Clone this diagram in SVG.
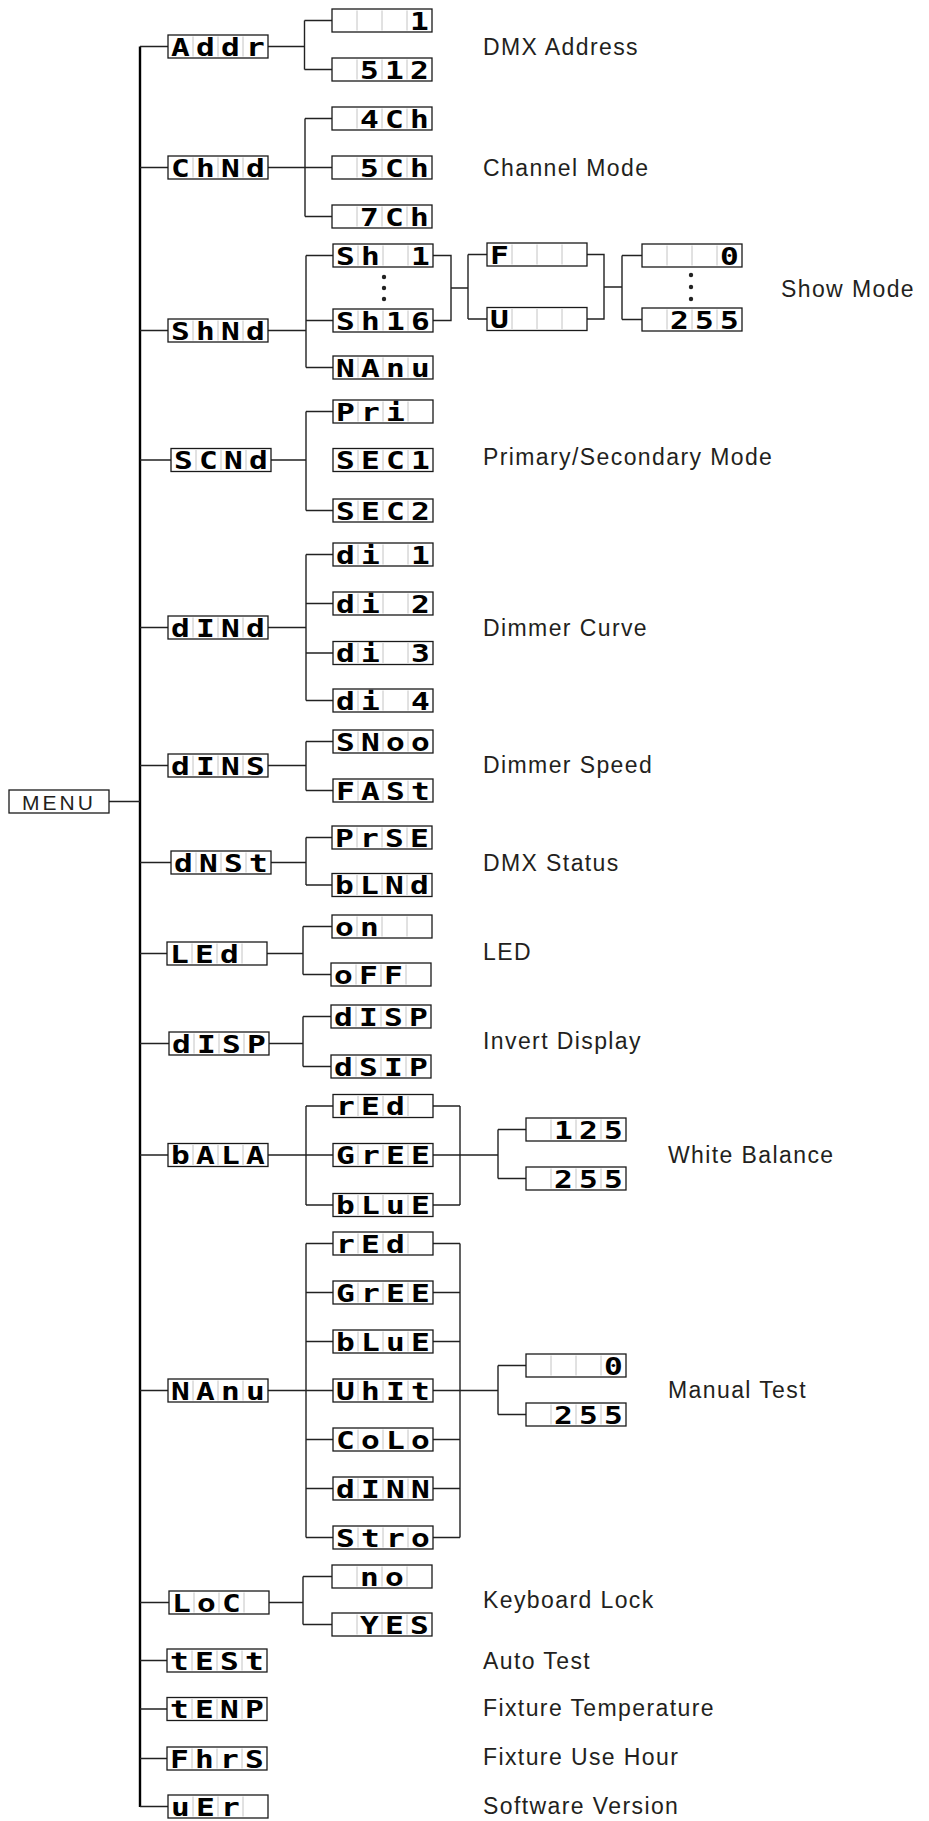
<svg xmlns="http://www.w3.org/2000/svg" xmlns:xlink="http://www.w3.org/1999/xlink" width="929" height="1821" viewBox="0 0 929 1821">
<style>
.box{fill:#fff;stroke:#1a1a1a;stroke-width:1.3}
.dv{stroke:#c4c4c4;stroke-width:1;fill:none}
.lcd{font-family:"DejaVu Sans Mono","Liberation Mono",monospace;font-weight:bold;font-size:24px;fill:#000;text-anchor:middle;transform:scale(1.3,1);transform-origin:0 0}
.lbl{font-family:"Liberation Sans",Arial,sans-serif;font-size:23px;fill:#231f20;letter-spacing:1.4px}
.menu{font-family:"Liberation Sans",Arial,sans-serif;font-size:21px;fill:#231f20;letter-spacing:3px}
.ln{stroke:#222;stroke-width:1.4;fill:none}
.main{stroke:#000;stroke-width:2.4;fill:none}
.dot{fill:#222}
</style>
<defs>
<g id="cells"><rect class="box" x="0" y="0" width="100" height="23"/><path class="dv" d="M25 1.5v20M50 1.5v20M75 1.5v20"/></g>
</defs>
<rect width="929" height="1821" fill="#fff"/>
<g id="connectors">
<path class="main" d="M140 46.5V1807"/>
<path class="ln" d="M109 801.5H140
M140 46.5H168M268 46.5H304.5M304.5 20.5V69.5M304.5 20.5H332M304.5 69.5H332
M140 167.5H168M268 167.5H305M305 118.5V216.5M305 118.5H332M305 167.5H332M305 216.5H332
M140 330.5H168M268 330.5H306M306 255.5V367.5M306 255.5H333M306 320.5H333M306 367.5H333
M433 255.5H451V320.5H433M451 288H468M468 254.5V319M468 254.5H487M468 319H487
M587 254.5H604V319H587M604 287H622M622 255.5V319.5M622 255.5H642M622 319.5H642
M140 460H171M271 460H306M306 411.5V510.5M306 411.5H333M306 510.5H333
M140 627.5H168M268 627.5H306M306 554.5V700.5M306 554.5H333M306 603.5H333M306 653H333M306 700.5H333
M140 765.5H168M268 765.5H306M306 741.5V790.5M306 741.5H333M306 790.5H333
M140 862.5H171M271 862.5H306M306 837.5V885M306 837.5H332M306 885H332
M140 953.5H167M267 953.5H303M303 926.5V974.5M303 926.5H332M303 974.5H331
M140 1043.5H169M269 1043.5H303M303 1016.5V1066.5M303 1016.5H331M303 1066.5H331
M140 1155H168M268 1155H333M306 1106V1205M306 1106H333M306 1205H333
M433 1106H460M433 1155H460M433 1205H460M460 1106V1205M460 1155H498M498 1129.5V1178.5M498 1129.5H526M498 1178.5H526
M140 1390.5H168M268 1390.5H306M306 1243.5V1537.5
M306 1243.5H333M306 1292.5H333M306 1341.5H333M306 1390.5H333M306 1439.5H333M306 1488.5H333M306 1537.5H333
M433 1243.5H460M433 1292.5H460M433 1341.5H460M433 1390.5H460M433 1439.5H460M433 1488.5H460M433 1537.5H460
M460 1243.5V1537.5M460 1390.5H498M498 1365.5V1414.5M498 1365.5H526M498 1414.5H526
M140 1602.5H169M269 1602.5H303M303 1576.5V1624.5M303 1576.5H332M303 1624.5H332
M140 1660.5H167M140 1709H167M140 1758.5H167M140 1806.5H168"/>
<circle class="dot" cx="384" cy="277" r="2.2"/><circle class="dot" cx="384" cy="288" r="2.2"/><circle class="dot" cx="384" cy="299" r="2.2"/>
<circle class="dot" cx="691" cy="275" r="2.2"/><circle class="dot" cx="691" cy="287" r="2.2"/><circle class="dot" cx="691" cy="299" r="2.2"/>
</g>
<g id="menu"><rect class="box" x="9" y="790" width="100" height="23"/><text class="menu" x="22" y="809.5">MENU</text></g>
<g id="addr" transform="translate(168,35)"><use xlink:href="#cells"/><text class="lcd" x="9.6 28.8 48.1 67.3" y="20.5">Addr</text></g>
<g id="addr-1" transform="translate(332,9)"><use xlink:href="#cells"/><text class="lcd" x="67.3" y="20.5">1</text></g>
<g id="addr-512" transform="translate(332,58)"><use xlink:href="#cells"/><text class="lcd" x="28.8 48.1 67.3" y="20.5">512</text></g>
<g id="chnd" transform="translate(168,156)"><use xlink:href="#cells"/><text class="lcd" x="9.6 28.8 48.1 67.3" y="20.5">ChNd</text></g>
<g id="ch4" transform="translate(332,107)"><use xlink:href="#cells"/><text class="lcd" x="28.8 48.1 67.3" y="20.5">4Ch</text></g>
<g id="ch5" transform="translate(332,156)"><use xlink:href="#cells"/><text class="lcd" x="28.8 48.1 67.3" y="20.5">5Ch</text></g>
<g id="ch7" transform="translate(332,205)"><use xlink:href="#cells"/><text class="lcd" x="28.8 48.1 67.3" y="20.5">7Ch</text></g>
<g id="shnd" transform="translate(168,319)"><use xlink:href="#cells"/><text class="lcd" x="9.6 28.8 48.1 67.3" y="20.5">ShNd</text></g>
<g id="sh1" transform="translate(333,244)"><use xlink:href="#cells"/><text class="lcd" x="9.6 28.8 67.3" y="20.5">Sh1</text></g>
<g id="sh16" transform="translate(333,309)"><use xlink:href="#cells"/><text class="lcd" x="9.6 28.8 48.1 67.3" y="20.5">Sh16</text></g>
<g id="sh-nanu" transform="translate(333,356)"><use xlink:href="#cells"/><text class="lcd" x="9.6 28.8 48.1 67.3" y="20.5">NAnu</text></g>
<g id="show-f" transform="translate(487,243)"><use xlink:href="#cells"/><text class="lcd" x="9.6" y="20.5">F</text></g>
<g id="show-u" transform="translate(487,307.5)"><use xlink:href="#cells"/><text class="lcd" x="9.6" y="20.5">U</text></g>
<g id="show-0" transform="translate(642,244)"><use xlink:href="#cells"/><text class="lcd" x="67.3" y="20.5">0</text></g>
<g id="show-255" transform="translate(642,308)"><use xlink:href="#cells"/><text class="lcd" x="28.8 48.1 67.3" y="20.5">255</text></g>
<g id="scnd" transform="translate(171,448.5)"><use xlink:href="#cells"/><text class="lcd" x="9.6 28.8 48.1 67.3" y="20.5">SCNd</text></g>
<g id="pri" transform="translate(333,400)"><use xlink:href="#cells"/><text class="lcd" x="9.6 28.8 48.1" y="20.5">Pri</text></g>
<g id="sec1" transform="translate(333,448.5)"><use xlink:href="#cells"/><text class="lcd" x="9.6 28.8 48.1 67.3" y="20.5">SEC1</text></g>
<g id="sec2" transform="translate(333,499)"><use xlink:href="#cells"/><text class="lcd" x="9.6 28.8 48.1 67.3" y="20.5">SEC2</text></g>
<g id="dind" transform="translate(168,616)"><use xlink:href="#cells"/><text class="lcd" x="9.6 28.8 48.1 67.3" y="20.5">dINd</text></g>
<g id="di1" transform="translate(333,543)"><use xlink:href="#cells"/><text class="lcd" x="9.6 28.8 67.3" y="20.5">di1</text></g>
<g id="di2" transform="translate(333,592)"><use xlink:href="#cells"/><text class="lcd" x="9.6 28.8 67.3" y="20.5">di2</text></g>
<g id="di3" transform="translate(333,641.5)"><use xlink:href="#cells"/><text class="lcd" x="9.6 28.8 67.3" y="20.5">di3</text></g>
<g id="di4" transform="translate(333,689)"><use xlink:href="#cells"/><text class="lcd" x="9.6 28.8 67.3" y="20.5">di4</text></g>
<g id="dins" transform="translate(168,754)"><use xlink:href="#cells"/><text class="lcd" x="9.6 28.8 48.1 67.3" y="20.5">dINS</text></g>
<g id="snoo" transform="translate(333,730)"><use xlink:href="#cells"/><text class="lcd" x="9.6 28.8 48.1 67.3" y="20.5">SNoo</text></g>
<g id="fast" transform="translate(333,779)"><use xlink:href="#cells"/><text class="lcd" x="9.6 28.8 48.1 67.3" y="20.5">FASt</text></g>
<g id="dnst" transform="translate(171,851)"><use xlink:href="#cells"/><text class="lcd" x="9.6 28.8 48.1 67.3" y="20.5">dNSt</text></g>
<g id="prse" transform="translate(332,826)"><use xlink:href="#cells"/><text class="lcd" x="9.6 28.8 48.1 67.3" y="20.5">PrSE</text></g>
<g id="blnd" transform="translate(332,873.5)"><use xlink:href="#cells"/><text class="lcd" x="9.6 28.8 48.1 67.3" y="20.5">bLNd</text></g>
<g id="led" transform="translate(167,942)"><use xlink:href="#cells"/><text class="lcd" x="9.6 28.8 48.1" y="20.5">LEd</text></g>
<g id="on" transform="translate(332,915)"><use xlink:href="#cells"/><text class="lcd" x="9.6 28.8" y="20.5">on</text></g>
<g id="off" transform="translate(331,963)"><use xlink:href="#cells"/><text class="lcd" x="9.6 28.8 48.1" y="20.5">oFF</text></g>
<g id="disp" transform="translate(169,1032)"><use xlink:href="#cells"/><text class="lcd" x="9.6 28.8 48.1 67.3" y="20.5">dISP</text></g>
<g id="disp-n" transform="translate(331,1005)"><use xlink:href="#cells"/><text class="lcd" x="9.6 28.8 48.1 67.3" y="20.5">dISP</text></g>
<g id="dsip" transform="translate(331,1055)"><use xlink:href="#cells"/><text class="lcd" x="9.6 28.8 48.1 67.3" y="20.5">dSIP</text></g>
<g id="bala" transform="translate(168,1143.5)"><use xlink:href="#cells"/><text class="lcd" x="9.6 28.8 48.1 67.3" y="20.5">bALA</text></g>
<g id="wb-red" transform="translate(333,1094.5)"><use xlink:href="#cells"/><text class="lcd" x="9.6 28.8 48.1" y="20.5">rEd</text></g>
<g id="wb-gree" transform="translate(333,1143.5)"><use xlink:href="#cells"/><text class="lcd" x="9.6 28.8 48.1 67.3" y="20.5">GrEE</text></g>
<g id="wb-blue" transform="translate(333,1193.5)"><use xlink:href="#cells"/><text class="lcd" x="9.6 28.8 48.1 67.3" y="20.5">bLuE</text></g>
<g id="wb-125" transform="translate(526,1118)"><use xlink:href="#cells"/><text class="lcd" x="28.8 48.1 67.3" y="20.5">125</text></g>
<g id="wb-255" transform="translate(526,1167)"><use xlink:href="#cells"/><text class="lcd" x="28.8 48.1 67.3" y="20.5">255</text></g>
<g id="nanu" transform="translate(168,1379)"><use xlink:href="#cells"/><text class="lcd" x="9.6 28.8 48.1 67.3" y="20.5">NAnu</text></g>
<g id="mt-red" transform="translate(333,1232)"><use xlink:href="#cells"/><text class="lcd" x="9.6 28.8 48.1" y="20.5">rEd</text></g>
<g id="mt-gree" transform="translate(333,1281)"><use xlink:href="#cells"/><text class="lcd" x="9.6 28.8 48.1 67.3" y="20.5">GrEE</text></g>
<g id="mt-blue" transform="translate(333,1330)"><use xlink:href="#cells"/><text class="lcd" x="9.6 28.8 48.1 67.3" y="20.5">bLuE</text></g>
<g id="mt-whit" transform="translate(333,1379)"><use xlink:href="#cells"/><text class="lcd" x="9.6 28.8 48.1 67.3" y="20.5">UhIt</text></g>
<g id="mt-colo" transform="translate(333,1428)"><use xlink:href="#cells"/><text class="lcd" x="9.6 28.8 48.1 67.3" y="20.5">CoLo</text></g>
<g id="mt-dinn" transform="translate(333,1477)"><use xlink:href="#cells"/><text class="lcd" x="9.6 28.8 48.1 67.3" y="20.5">dINN</text></g>
<g id="mt-stro" transform="translate(333,1526)"><use xlink:href="#cells"/><text class="lcd" x="9.6 28.8 48.1 67.3" y="20.5">Stro</text></g>
<g id="mt-0" transform="translate(526,1354)"><use xlink:href="#cells"/><text class="lcd" x="67.3" y="20.5">0</text></g>
<g id="mt-255" transform="translate(526,1403)"><use xlink:href="#cells"/><text class="lcd" x="28.8 48.1 67.3" y="20.5">255</text></g>
<g id="loc" transform="translate(169,1591)"><use xlink:href="#cells"/><text class="lcd" x="9.6 28.8 48.1" y="20.5">LoC</text></g>
<g id="no" transform="translate(332,1565)"><use xlink:href="#cells"/><text class="lcd" x="28.8 48.1" y="20.5">no</text></g>
<g id="yes" transform="translate(332,1613)"><use xlink:href="#cells"/><text class="lcd" x="28.8 48.1 67.3" y="20.5">YES</text></g>
<g id="test" transform="translate(167,1649)"><use xlink:href="#cells"/><text class="lcd" x="9.6 28.8 48.1 67.3" y="20.5">tESt</text></g>
<g id="temp" transform="translate(167,1697.5)"><use xlink:href="#cells"/><text class="lcd" x="9.6 28.8 48.1 67.3" y="20.5">tENP</text></g>
<g id="fhrs" transform="translate(167,1747)"><use xlink:href="#cells"/><text class="lcd" x="9.6 28.8 48.1 67.3" y="20.5">FhrS</text></g>
<g id="ver" transform="translate(168,1795)"><use xlink:href="#cells"/><text class="lcd" x="9.6 28.8 48.1" y="20.5">uEr</text></g>
<g id="labels">
<text class="lbl" x="483" y="54.5">DMX Address</text>
<text class="lbl" x="483" y="175.5">Channel Mode</text>
<text class="lbl" x="781" y="296.5">Show Mode</text>
<text class="lbl" x="483" y="464.5">Primary/Secondary Mode</text>
<text class="lbl" x="483" y="635.5">Dimmer Curve</text>
<text class="lbl" x="483" y="773">Dimmer Speed</text>
<text class="lbl" x="483" y="871">DMX Status</text>
<text class="lbl" x="483" y="960">LED</text>
<text class="lbl" x="483" y="1048.5">Invert Display</text>
<text class="lbl" x="668" y="1163">White Balance</text>
<text class="lbl" x="668" y="1398">Manual Test</text>
<text class="lbl" x="483" y="1608">Keyboard Lock</text>
<text class="lbl" x="483" y="1669">Auto Test</text>
<text class="lbl" x="483" y="1715.5">Fixture Temperature</text>
<text class="lbl" x="483" y="1765">Fixture Use Hour</text>
<text class="lbl" x="483" y="1814">Software Version</text>
</g>
</svg>
